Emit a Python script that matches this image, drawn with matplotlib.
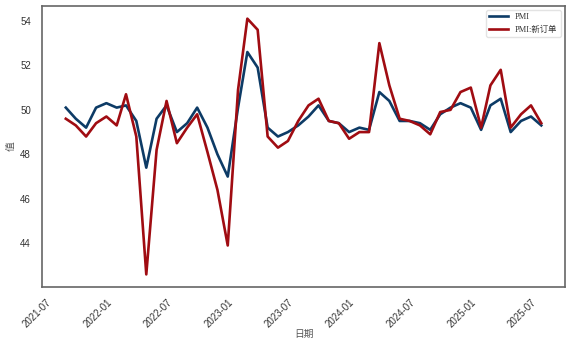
import pandas as pd
import matplotlib
matplotlib.use("Agg")
import matplotlib.pyplot as plt
import matplotlib.dates as mdates

# monthly data, 2021-08 .. 2025-07 (month-end dates)
dates = pd.date_range("2021-08-31", "2025-07-31", freq="ME")

pmi = [50.1, 49.6, 49.2, 50.1, 50.3,
       50.1, 50.2, 49.5, 47.4, 49.6, 50.2, 49.0, 49.4, 50.1, 49.2, 48.0, 47.0,
       50.1, 52.6, 51.9, 49.2, 48.8, 49.0, 49.3, 49.7, 50.2, 49.5, 49.4, 49.0,
       49.2, 49.1, 50.8, 50.4, 49.5, 49.5, 49.4, 49.1, 49.8, 50.1, 50.3, 50.1,
       49.1, 50.2, 50.5, 49.0, 49.5, 49.7, 49.3]

new_orders = [49.6, 49.3, 48.8, 49.4, 49.7,
              49.3, 50.7, 48.8, 42.6, 48.2, 50.4, 48.5, 49.2, 49.8, 48.1, 46.4, 43.9,
              50.9, 54.1, 53.6, 48.8, 48.3, 48.6, 49.5, 50.2, 50.5, 49.5, 49.4, 48.7,
              49.0, 49.0, 53.0, 51.1, 49.6, 49.5, 49.3, 48.9, 49.9, 50.0, 50.8, 51.0,
              49.2, 51.1, 51.8, 49.2, 49.8, 50.2, 49.4]

labels = ["PMI", "PMI:新订单"]

plt.rcParams['font.family'] = ['Liberation Sans', 'Noto Sans CJK SC', 'DejaVu Sans']

fig, ax = plt.subplots(figsize=(5.76, 3.46), dpi=100)
fig.subplots_adjust(left=0.073, right=0.981, top=0.983, bottom=0.17)

ax.plot(dates, pmi, color='#0d3b66', lw=1.9, label=labels[0])
ax.plot(dates, new_orders, color='#a00c12', lw=1.9, label=labels[1])

ax.xaxis.set_major_locator(mdates.MonthLocator(bymonth=[1, 7]))
ax.xaxis.set_major_formatter(mdates.DateFormatter('%Y-%m'))
plt.setp(ax.get_xticklabels(), rotation=45, ha='right', rotation_mode='anchor')
ax.tick_params(labelsize=7, colors='#333333', length=0)
ax.tick_params(axis='y', pad=8)
ax.tick_params(axis='x', pad=7)
ax.set_yticks([44, 46, 48, 50, 52, 54])

for s in ax.spines.values():
    s.set_color('#666666')
    s.set_linewidth(1.2)

ax.set_xlabel('日期', fontsize=7, color='#555555', family=['Noto Sans CJK SC'], labelpad=0)
ax.set_ylabel('值', fontsize=7, color='#555555', family=['Noto Sans CJK SC'], labelpad=3)

leg = ax.legend(loc='upper right', handlelength=2.3,
                prop={'family': ['Liberation Serif', 'Noto Sans CJK SC'], 'size': 6})
leg.get_frame().set_edgecolor('#dddddd')
for t in leg.get_texts():
    t.set_color('#333333')

fig.savefig('out.png', dpi=100)
